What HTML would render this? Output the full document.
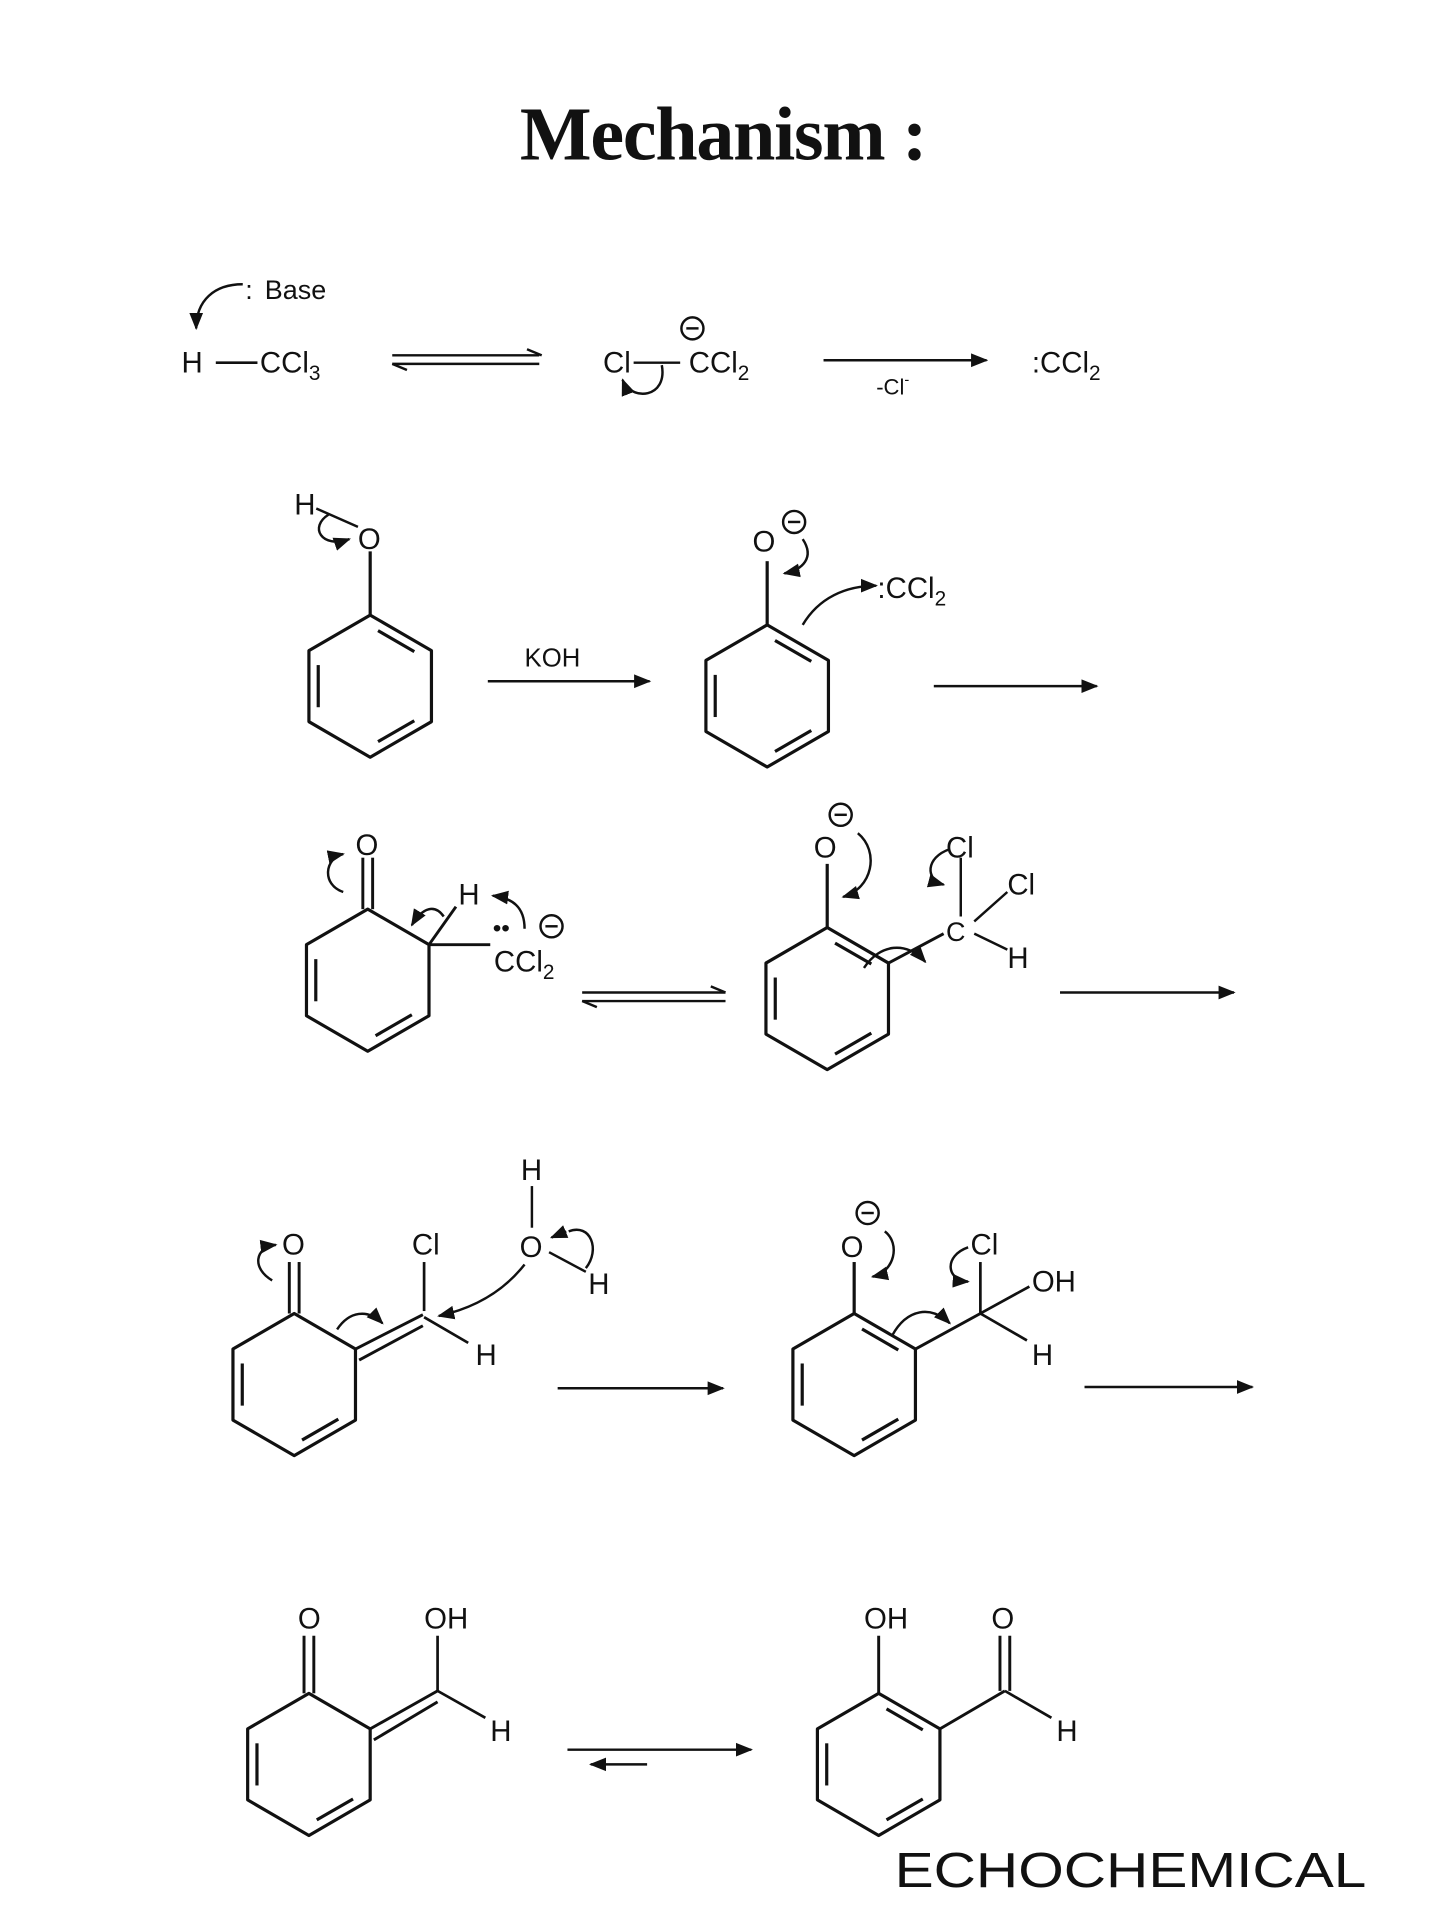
<!DOCTYPE html>
<html><head><meta charset="utf-8"><style>
html,body{margin:0;padding:0;background:#fff;}
svg{display:block}
text{font-family:"Liberation Sans",Arial,sans-serif;fill:#111;}
</style></head><body>
<svg width="1440" height="1920" viewBox="0 0 1175 1567" xmlns="http://www.w3.org/2000/svg">
<defs>
<marker id="ah" viewBox="0 0 10 10" refX="9" refY="5" markerWidth="7" markerHeight="7" orient="auto"><path d="M0,1 L10,5 L0,9 z" fill="#111"/></marker>
<g id="hex" fill="none" stroke="#111" stroke-width="2.6"><polygon points="0,-58 50,-29 50,29 0,58 -50,29 -50,-29" stroke-linejoin="round"/></g>
<g id="ar" fill="none" stroke="#111" stroke-width="2.6">
<line x1="6.4" y1="-45.3" x2="36" y2="-28.2"/><line x1="36" y1="28.2" x2="6.4" y2="45.3"/><line x1="-42.4" y1="17.2" x2="-42.4" y2="-17.2"/></g>
<g id="dien" fill="none" stroke="#111" stroke-width="2.6">
<line x1="36" y1="28.2" x2="6.4" y2="45.3"/><line x1="-42.4" y1="17.2" x2="-42.4" y2="-17.2"/></g>
</defs>
<text x="590" y="130" text-anchor="middle" style="font-family:'Liberation Serif',serif;font-weight:bold;font-size:62px;letter-spacing:-1px">Mechanism :</text>

<!-- Row 1 -->
<text x="200" y="244" font-size="22">:</text><text x="216" y="244" font-size="22">Base</text>
<path d="M198,232 C175,232 160,245 160,268" stroke="#111" stroke-width="2" fill="none" marker-end="url(#ah)"/>
<text x="148" y="304" font-size="24">H</text>
<line x1="176" y1="296" x2="210" y2="296" stroke="#111" stroke-width="2.2"/>
<text x="212" y="304" font-size="24">CCl<tspan font-size="17" dy="6">3</tspan></text>
<line x1="320" y1="290" x2="440" y2="290" stroke="#111" stroke-width="2"/><path d="M430,285 L442,290" stroke="#111" stroke-width="2"/>
<line x1="320" y1="297" x2="440" y2="297" stroke="#111" stroke-width="2"/><path d="M320,297 L332,302" stroke="#111" stroke-width="2"/>
<text x="492" y="304" font-size="24">Cl</text>
<line x1="517" y1="296" x2="555" y2="296" stroke="#111" stroke-width="2"/>
<text x="562" y="304" font-size="24">CCl<tspan font-size="17" dy="6">2</tspan></text>
<circle cx="565" cy="268" r="9" stroke="#111" stroke-width="2" fill="none"/><line x1="560" y1="268" x2="570" y2="268" stroke="#111" stroke-width="2"/>
<path d="M540,298 C545,325 515,328 508,310" stroke="#111" stroke-width="2" fill="none" marker-end="url(#ah)"/>
<line x1="672" y1="294" x2="805" y2="294" stroke="#111" stroke-width="2" marker-end="url(#ah)"/>
<text x="715" y="322" font-size="18">-Cl<tspan font-size="12" dy="-8">-</tspan></text>
<text x="842" y="304" font-size="24">:CCl<tspan font-size="17" dy="6">2</tspan></text>

<!-- Row 2 -->
<use href="#hex" x="302" y="560"/><use href="#ar" x="302" y="560"/>
<line x1="302" y1="502" x2="302" y2="450" stroke="#111" stroke-width="2.6"/>
<text x="292" y="448" font-size="24">O</text>
<text x="240" y="420" font-size="24">H</text>
<line x1="258" y1="415" x2="292" y2="430" stroke="#111" stroke-width="2"/>
<path d="M268,420 C252,430 262,448 285,440" stroke="#111" stroke-width="2" fill="none" marker-end="url(#ah)"/>
<text x="428" y="544" font-size="21">KOH</text>
<line x1="398" y1="556" x2="530" y2="556" stroke="#111" stroke-width="2" marker-end="url(#ah)"/>
<use href="#hex" x="626" y="568"/><use href="#ar" x="626" y="568"/>
<line x1="626" y1="510" x2="626" y2="458" stroke="#111" stroke-width="2.6"/>
<text x="614" y="450" font-size="24">O</text>
<circle cx="648" cy="426" r="9" stroke="#111" stroke-width="2" fill="none"/><line x1="643" y1="426" x2="653" y2="426" stroke="#111" stroke-width="2"/>
<path d="M655,440 C665,455 655,465 640,468" stroke="#111" stroke-width="2" fill="none" marker-end="url(#ah)"/>
<path d="M655,510 C668,488 690,478 715,478" stroke="#111" stroke-width="2" fill="none" marker-end="url(#ah)"/>
<text x="716" y="488" font-size="24">:CCl<tspan font-size="17" dy="6">2</tspan></text>
<line x1="762" y1="560" x2="895" y2="560" stroke="#111" stroke-width="2" marker-end="url(#ah)"/>

<!-- Row 3 left -->
<use href="#hex" x="300" y="800"/><use href="#dien" x="300" y="800"/>
<line x1="296" y1="742" x2="296" y2="700" stroke="#111" stroke-width="2.4"/><line x1="304" y1="742" x2="304" y2="700" stroke="#111" stroke-width="2.4"/>
<text x="290" y="698" font-size="24">O</text>
<path d="M280,728 C262,722 265,700 280,697" stroke="#111" stroke-width="2" fill="none" marker-end="url(#ah)"/>
<line x1="350" y1="771" x2="372" y2="740" stroke="#111" stroke-width="2.4"/>
<line x1="350" y1="771" x2="400" y2="771" stroke="#111" stroke-width="2.4"/>
<text x="374" y="738" font-size="24">H</text>
<path d="M362,748 C355,738 345,740 336,755" stroke="#111" stroke-width="2" fill="none" marker-end="url(#ah)"/>
<path d="M428,758 C428,740 418,733 402,731" stroke="#111" stroke-width="2" fill="none" marker-end="url(#ah)"/>
<text x="402" y="764" font-size="20">••</text>
<circle cx="450" cy="756" r="9" stroke="#111" stroke-width="2" fill="none"/><line x1="445" y1="756" x2="455" y2="756" stroke="#111" stroke-width="2"/>
<text x="403" y="793" font-size="24">CCl<tspan font-size="17" dy="6">2</tspan></text>
<line x1="475" y1="810" x2="592" y2="810" stroke="#111" stroke-width="2"/><path d="M580,805 L592,810" stroke="#111" stroke-width="2"/>
<line x1="475" y1="817" x2="592" y2="817" stroke="#111" stroke-width="2"/><path d="M475,817 L487,822" stroke="#111" stroke-width="2"/>
<!-- Row 3 right -->
<use href="#hex" x="675" y="815"/><use href="#ar" x="675" y="815"/>
<line x1="675" y1="757" x2="675" y2="705" stroke="#111" stroke-width="2.6"/>
<text x="664" y="700" font-size="24">O</text>
<circle cx="686" cy="665" r="9" stroke="#111" stroke-width="2" fill="none"/><line x1="681" y1="665" x2="691" y2="665" stroke="#111" stroke-width="2"/>
<path d="M700,680 C718,695 712,725 688,732" stroke="#111" stroke-width="2" fill="none" marker-end="url(#ah)"/>
<line x1="725" y1="786" x2="770" y2="762" stroke="#111" stroke-width="2.4"/>
<path d="M705,790 C718,770 740,768 755,785" stroke="#111" stroke-width="2" fill="none" marker-end="url(#ah)"/>
<text x="772" y="768" font-size="22">C</text>
<line x1="784" y1="748" x2="784" y2="700" stroke="#111" stroke-width="2"/>
<text x="772" y="700" font-size="24">Cl</text>
<path d="M775,693 C755,700 755,718 770,722" stroke="#111" stroke-width="2" fill="none" marker-end="url(#ah)"/>
<line x1="795" y1="752" x2="822" y2="728" stroke="#111" stroke-width="2"/>
<text x="822" y="730" font-size="24">Cl</text>
<line x1="795" y1="762" x2="822" y2="775" stroke="#111" stroke-width="2"/>
<text x="822" y="790" font-size="24">H</text>
<line x1="865" y1="810" x2="1007" y2="810" stroke="#111" stroke-width="2" marker-end="url(#ah)"/>

<!-- Row 4 left -->
<use href="#hex" x="240" y="1130"/><use href="#dien" x="240" y="1130"/>
<line x1="236" y1="1072" x2="236" y2="1030" stroke="#111" stroke-width="2.4"/><line x1="244" y1="1072" x2="244" y2="1030" stroke="#111" stroke-width="2.4"/>
<text x="230" y="1024" font-size="24">O</text>
<path d="M222,1045 C205,1035 208,1018 225,1016" stroke="#111" stroke-width="2" fill="none" marker-end="url(#ah)"/>
<line x1="290" y1="1101" x2="345" y2="1073" stroke="#111" stroke-width="2.4"/>
<line x1="293" y1="1110" x2="345" y2="1082" stroke="#111" stroke-width="2.4"/>
<path d="M275,1085 C285,1070 300,1068 312,1080" stroke="#111" stroke-width="2" fill="none" marker-end="url(#ah)"/>
<line x1="346" y1="1070" x2="346" y2="1030" stroke="#111" stroke-width="2.2"/>
<text x="336" y="1024" font-size="24">Cl</text>
<line x1="346" y1="1075" x2="382" y2="1096" stroke="#111" stroke-width="2.2"/>
<text x="388" y="1114" font-size="24">H</text>
<text x="425" y="963" font-size="24">H</text>
<line x1="434" y1="968" x2="434" y2="1002" stroke="#111" stroke-width="2"/>
<text x="424" y="1026" font-size="24">O</text>
<line x1="448" y1="1022" x2="478" y2="1038" stroke="#111" stroke-width="2"/>
<text x="480" y="1056" font-size="24">H</text>
<path d="M464,1005 C482,998 490,1020 478,1035" stroke="#111" stroke-width="2" fill="none"/>
<path d="M462,1005 L450,1010" stroke="#111" stroke-width="2" marker-end="url(#ah)"/>
<path d="M428,1032 C410,1055 385,1068 358,1074" stroke="#111" stroke-width="2" fill="none" marker-end="url(#ah)"/>
<line x1="455" y1="1133" x2="590" y2="1133" stroke="#111" stroke-width="2" marker-end="url(#ah)"/>
<!-- Row 4 right -->
<use href="#hex" x="697" y="1130"/><use href="#ar" x="697" y="1130"/>
<line x1="697" y1="1072" x2="697" y2="1030" stroke="#111" stroke-width="2.6"/>
<text x="686" y="1026" font-size="24">O</text>
<circle cx="708" cy="990" r="9" stroke="#111" stroke-width="2" fill="none"/><line x1="703" y1="990" x2="713" y2="990" stroke="#111" stroke-width="2"/>
<path d="M722,1005 C735,1015 730,1038 712,1042" stroke="#111" stroke-width="2" fill="none" marker-end="url(#ah)"/>
<line x1="747" y1="1101" x2="800" y2="1072" stroke="#111" stroke-width="2.4"/>
<path d="M728,1090 C740,1068 760,1065 775,1080" stroke="#111" stroke-width="2" fill="none" marker-end="url(#ah)"/>
<line x1="800" y1="1072" x2="800" y2="1030" stroke="#111" stroke-width="2.2"/>
<text x="792" y="1024" font-size="24">Cl</text>
<path d="M790,1018 C770,1025 772,1045 790,1046" stroke="#111" stroke-width="2" fill="none" marker-end="url(#ah)"/>
<line x1="800" y1="1072" x2="840" y2="1050" stroke="#111" stroke-width="2.2"/>
<text x="842" y="1054" font-size="24">OH</text>
<line x1="800" y1="1072" x2="838" y2="1094" stroke="#111" stroke-width="2.2"/>
<text x="842" y="1114" font-size="24">H</text>
<line x1="885" y1="1132" x2="1022" y2="1132" stroke="#111" stroke-width="2" marker-end="url(#ah)"/>

<!-- Row 5 left -->
<use href="#hex" x="252" y="1440"/><use href="#dien" x="252" y="1440"/>
<line x1="248" y1="1382" x2="248" y2="1335" stroke="#111" stroke-width="2.4"/><line x1="256" y1="1382" x2="256" y2="1335" stroke="#111" stroke-width="2.4"/>
<text x="243" y="1329" font-size="24">O</text>
<line x1="302" y1="1411" x2="357" y2="1380" stroke="#111" stroke-width="2.4"/>
<line x1="305" y1="1420" x2="357" y2="1389" stroke="#111" stroke-width="2.4"/>
<line x1="357" y1="1380" x2="357" y2="1335" stroke="#111" stroke-width="2.2"/>
<text x="346" y="1329" font-size="24">OH</text>
<line x1="357" y1="1380" x2="396" y2="1402" stroke="#111" stroke-width="2.2"/>
<text x="400" y="1421" font-size="24">H</text>
<line x1="463" y1="1428" x2="613" y2="1428" stroke="#111" stroke-width="2" marker-end="url(#ah)"/>
<line x1="528" y1="1440" x2="482" y2="1440" stroke="#111" stroke-width="2" marker-end="url(#ah)"/>
<!-- Row 5 right -->
<use href="#hex" x="717" y="1440"/><use href="#ar" x="717" y="1440"/>
<line x1="717" y1="1382" x2="717" y2="1335" stroke="#111" stroke-width="2.4"/>
<text x="705" y="1329" font-size="24">OH</text>
<line x1="767" y1="1411" x2="820" y2="1380" stroke="#111" stroke-width="2.4"/>
<line x1="816" y1="1380" x2="816" y2="1335" stroke="#111" stroke-width="2.4"/><line x1="824" y1="1380" x2="824" y2="1335" stroke="#111" stroke-width="2.4"/>
<text x="809" y="1329" font-size="24">O</text>
<line x1="820" y1="1380" x2="858" y2="1402" stroke="#111" stroke-width="2.2"/>
<text x="862" y="1421" font-size="24">H</text>

<text x="730" y="1540" font-size="40" textLength="385" lengthAdjust="spacingAndGlyphs">ECHOCHEMICAL</text>
</svg>
</body></html>
